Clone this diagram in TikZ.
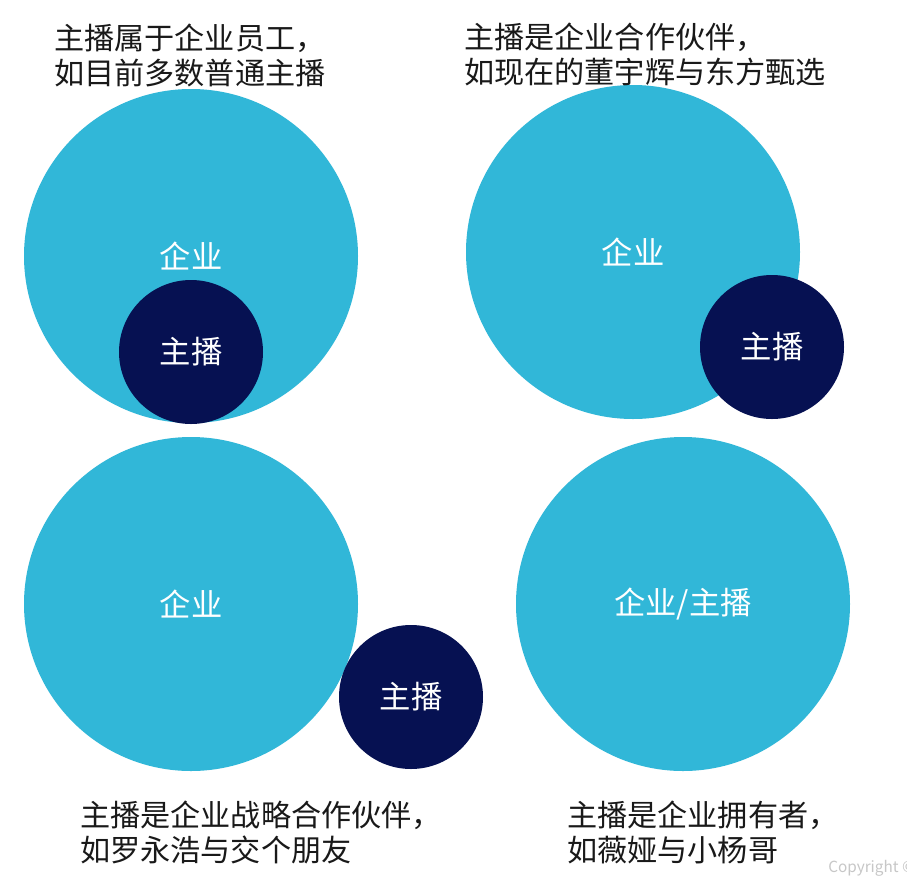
\documentclass[tikz,border=0pt]{standalone}
\usepackage{fontspec}
\setmainfont{Noto Sans CJK SC}
\definecolor{qiye}{RGB}{49,183,216}
\definecolor{zhubo}{RGB}{6,17,82}
\tikzset{
  big/.style={circle,fill=qiye,minimum size=250.5pt,inner sep=0pt,text=white,font=\fontsize{23.5}{26}\selectfont},
  small/.style={circle,fill=zhubo,minimum size=108pt,inner sep=0pt,text=white,font=\fontsize{23.5}{26}\selectfont},
  caption/.style={anchor=west,align=left,inner sep=0pt,text=black!90,font=\fontsize{22.6}{26.25}\selectfont}
}
\begin{document}
\begin{tikzpicture}[x=0.75pt,y=-0.75pt]
\useasboundingbox[fill=white] (0,0) rectangle (907,886);

% employee
\node[big] (qiyeA) at (191,256) {企业};
\node[small] (zhuboA) at (191,352) {主播};
\node[caption] (capA) at (54,55) {主播属于企业员工，\\如目前多数普通主播};

% partner
\node[big] (qiyeB) at (633,252) {企业};
\node[small] (zhuboB) at (772,347) {主播};
\node[caption] (capB) at (464,54) {主播是企业合作伙伴，\\如现在的董宇辉与东方甄选};

% strategic partner
\node[big] (qiyeC) at (191,604) {企业};
\node[small] (zhuboC) at (411,697) {主播};
\node[caption] (capC) at (80,832) {主播是企业战略合作伙伴，\\如罗永浩与交个朋友};

% owner
\node[big] (qiyeD) at (683,604) {企业/主播};
\node[caption] (capD) at (567,832) {主播是企业拥有者，\\如薇娅与小杨哥};

\node[anchor=west,inner sep=0pt,text=black!22,font=\fontsize{11.5}{13}\selectfont] (copy) at (828,868) {Copyright ©};
\end{tikzpicture}
\end{document}
